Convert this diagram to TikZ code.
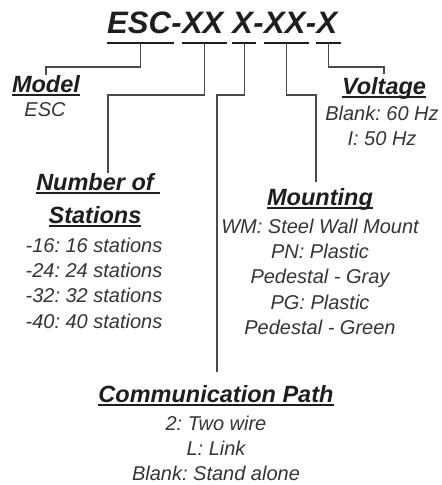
\documentclass[tikz,border=0pt]{standalone}
\usepackage{fontspec}
\setmainfont{Liberation Sans}
\usetikzlibrary{calc}
\definecolor{ink}{HTML}{1E1E1E}
\definecolor{txt}{HTML}{353535}
\definecolor{wire}{HTML}{4A4A4A}
\newlength\ulw
\newcommand\hul[1]{\settowidth{\ulw}{#1}\makebox[0pt][l]{\rule[-3.5pt]{\ulw}{1.3pt}}#1}
\frenchspacing
\begin{document}
\begin{tikzpicture}[x=1pt,y=-1pt,
  titlef/.style={inner sep=0pt, anchor=base west, text=ink, font=\fontsize{31}{31}\selectfont\bfseries\itshape},
  hdr/.style={inner sep=0pt, anchor=base, text=ink, font=\fontsize{23.5}{30}\selectfont\bfseries\itshape},
  body/.style={inner sep=0pt, anchor=north, text=txt, font=\fontsize{20}{25.4}\selectfont\itshape, align=center},
  ul/.style={line width=2pt, ink},
  wirestyle/.style={line width=1.2pt, wire}
]
\fill[white] (0,0) rectangle (442,485);
\useasboundingbox (0,0) rectangle (442,485);

% title
\node[titlef] (t1) at (107,33) {ESC};
\node[titlef] (t1d) at (t1.base east) {-};
\node[titlef] (t2) at (t1d.base east) {XX};
\node[titlef] (t3) at ([xshift=8.6pt]t2.base east) {X};
\node[titlef] (t3d) at (t3.base east) {-};
\node[titlef] (t4) at (t3d.base east) {XX};
\node[titlef] (t4d) at (t4.base east) {-};
\node[titlef] (t5) at (t4d.base east) {X};
\foreach \n in {t1,t2,t3,t4,t5}{
  \draw[ul] ([yshift=-10pt]\n.base west) -- coordinate (\n u) ([yshift=-10pt,xshift=3pt]\n.base east);
}

\coordinate (lvA) at (0,67);
\coordinate (lvB) at (0,95);

% headers
\node[hdr] (model) at (46,92) {\hul{Model}};
\node[hdr] (volt) at (384,94) {\hul{Voltage}};
\node[hdr] (nums1) at (95,190) {\hul{Number of\ }};
\node[hdr] (nums2) at (95,223) {\hul{Stations}};
\node[hdr] (mount) at (320,205) {\hul{Mounting}};
\node[hdr] (comm) at (216,402) {\hul{Communication Path}};

% bodies
\node[body] (modelb) at (45,102.5) {ESC};
\node[body] (voltb) at (382,105.5) {Blank: 60 Hz\\I: 50 Hz};
\node[body] (numsb) at (94,237.5) {-16: 16 stations\\-24: 24 stations\\-32: 32 stations\\-40: 40 stations};
\node[body] (mountb) at (320,218.5) {WM: Steel Wall Mount\\PN: Plastic\\Pedestal - Gray\\PG: Plastic\\Pedestal - Green};
\node[body] (commb) at (216,415.5) {2: Two wire\\L: Link\\Blank: Stand alone};

% connectors
\draw[wirestyle] (t1u) -- (t1u |- lvA) -| (model.north);
\draw[wirestyle] (t5u) -- (t5u |- lvA) -| ([yshift=3pt]volt.north);
\draw[wirestyle] (t2u) -- (t2u |- lvB) -| ([xshift=13pt]nums1.north);
\draw[wirestyle] (t3u) -- (t3u |- lvB) -| ([xshift=1pt,yshift=13pt]comm.north);
\draw[wirestyle] (t4u) -- (t4u |- lvB) -| ([xshift=-4pt,yshift=6pt]mount.north);
\end{tikzpicture}
\end{document}
